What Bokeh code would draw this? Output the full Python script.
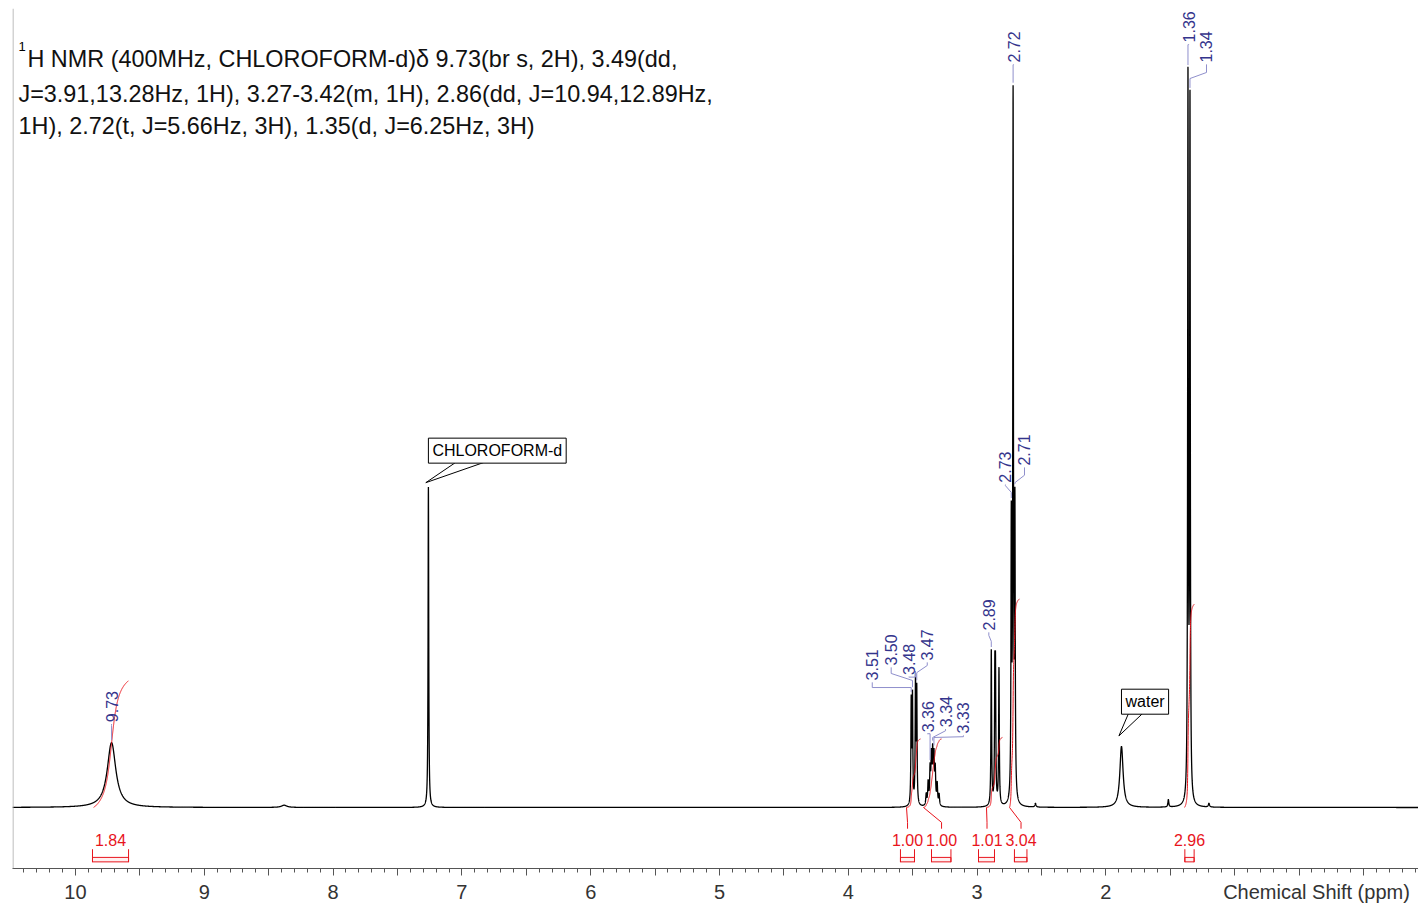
import numpy as np
from math import pi
from bokeh.plotting import figure
from bokeh.models import Range1d, Label, Span, FixedTicker, CustomJSTickFormatter, LinearAxis
from bokeh.core.properties import value
from bokeh.embed import file_html
from bokeh.resources import INLINE

FONT = "Liberation Sans"

# ---------------- data ----------------
# spectral lines: position (ppm), height (a.u., tallest line ~100), width at half height (ppm)
line_ppm = [9.72, 8.38, 7.26,
            3.5115, 3.5017, 3.4783, 3.4685,
            3.395, 3.380, 3.365, 3.355, 3.345, 3.335, 3.325, 3.310, 3.295,
            2.8898, 2.8622, 2.8573, 2.8302,
            2.7345, 2.7205, 2.7065,
            2.547, 1.879, 1.515,
            1.3628, 1.3472, 1.200]
line_height = [8.7, 0.3, 43.0,
               13.7, 14.3, 16.4, 15.1,
               1.5, 3.0, 4.5, 6.0, 6.5, 6.0, 4.5, 2.8, 1.5,
               20.9, 16.0, 16.0, 18.4,
               36.6, 93.6, 38.5,
               0.5, 8.2, 1.0,
               96.6, 93.4, 0.5]
line_fwhm = [0.080, 0.050, 0.006,
             0.006, 0.006, 0.006, 0.006,
             0.008, 0.008, 0.008, 0.008, 0.008, 0.008, 0.008, 0.008, 0.008,
             0.006, 0.006, 0.006, 0.006,
             0.006, 0.006, 0.006,
             0.010, 0.030, 0.008,
             0.006, 0.006, 0.010]

# peak labels: text, peak position (ppm)
peak_text = ["9.73", "3.51", "3.50", "3.48", "3.47", "3.36", "3.34", "3.33",
             "2.89", "2.73", "2.71", "2.72", "1.36", "1.34"]
peak_pos = [9.72, 3.5115, 3.5017, 3.4783, 3.4685, 3.365, 3.345, 3.335,
            2.8898, 2.7345, 2.7065, 2.7205, 1.3628, 1.3472]

# integrals
int_value = ["1.84", "1.00", "1.00", "1.01", "3.04", "2.96"]
int_from = [9.868, 3.595, 3.354, 2.989, 2.710, 1.387]
int_to = [9.588, 3.486, 3.203, 2.865, 2.613, 1.315]
curve_from = [9.860, 3.548, 3.416, 2.927, 2.748, 1.390]
curve_to = [9.589, 3.439, 3.276, 2.803, 2.671, 1.313]
curve_rise = [17.0, 9.2, 9.2, 9.4, 28.0, 27.3]

# solvent / impurity annotations
note_text = ["CHLOROFORM-d", "water"]
note_pos = [7.26, 1.879]

header_lines = ["H NMR (400MHz, CHLOROFORM-d)\u03b4 9.73(br s, 2H), 3.49(dd,",
                "J=3.91,13.28Hz, 1H), 3.27-3.42(m, 1H), 2.86(dd, J=10.94,12.89Hz,",
                "1H), 2.72(t, J=5.66Hz, 3H), 1.35(d, J=6.25Hz, 3H)"]

x_title = "Chemical Shift (ppm)"
x_tick_marks = [i * 0.5 for i in range(0, 21)]
x_minor = [round(-0.4 + i * 0.1, 1) for i in range(0, 109)]
x_tick_labels = [10, 9, 8, 7, 6, 5, 4, 3, 2]

# ---------------- layout (label placement) ----------------
title_at = 0.365
lab_x = [9.72, 3.814, 3.667, 3.530, 3.387, 3.385, 3.245, 3.106,
         2.909, 2.780, 2.632, 2.717, 1.357, 1.219]
lab_bottom = [11.45, 17.05, 19.06, 17.8, 19.73, 10.1, 10.78, 9.93,
              23.76, 43.6, 45.9, 100.0, 102.7, 100.0]
knee1 = [11.0, 16.1, 17.99, 17.5, 19.06, 9.9, 10.3, 9.5,
         23.1, 43.2, 44.6, 99.7, 102.4, 98.66]
knee2 = [11.0, 16.1, 17.05, 17.5, 18.1, 9.9, 9.4, 9.4,
         22.3, 42.3, 43.6, 99.7, 102.4, 97.85]
int_label_x = [9.728, 3.540, 3.276, 2.923, 2.659, 1.351]
int_leader = [False, True, True, True, True, False]

# ---------------- spectrum model ----------------
ppm = np.linspace(10.489, -0.427, 21833)
spec = np.zeros_like(ppm)
for x0, a, w in zip(line_ppm, line_height, line_fwhm):
    spec += a / (1.0 + ((ppm - x0) / (w / 2.0)) ** 2)


def top_at(x):
    return float(np.interp(x, ppm[::-1], spec[::-1]))


p = figure(width=1418, height=905, output_backend="svg", toolbar_location=None,
           x_range=Range1d(10.489, -0.427), y_range=Range1d(-8.19, 107.25),
           min_border_left=12, min_border_right=0, min_border_top=8, min_border_bottom=37)
p.outline_line_color = None
p.grid.visible = False
p.yaxis.visible = False
p.background_fill_color = "white"
p.border_fill_color = "white"

# axis 1: line and tick marks only
ax = p.xaxis[0]
ax.ticker = FixedTicker(ticks=x_tick_marks, minor_ticks=x_minor)
ax.formatter = CustomJSTickFormatter(code='return "";')
ax.axis_line_color = "#555555"
ax.major_tick_line_color = "#555555"
ax.minor_tick_line_color = "#555555"
ax.major_tick_in = 0
ax.major_tick_out = 7
ax.minor_tick_in = 0
ax.minor_tick_out = 4
ax.major_label_text_font_size = "1px"
ax.major_label_standoff = 0

# axis 2: numbers and the axis title, on one row
lab_axis = LinearAxis(
    ticker=FixedTicker(ticks=x_tick_labels + [title_at], minor_ticks=[]),
    formatter=CustomJSTickFormatter(args=dict(title=x_title, title_at=title_at), code="""
        if (Math.abs(tick - title_at) < 1e-6) { return title; }
        return tick.toFixed(0);
    """),
    axis_line_color=None, major_tick_line_color=None, minor_tick_line_color=None,
    major_tick_in=0, major_tick_out=0, minor_tick_in=0, minor_tick_out=0,
    major_label_text_font=FONT, major_label_text_font_size="20px",
    major_label_text_color="#333333", major_label_standoff=5)
p.add_layout(lab_axis, "below")

p.add_layout(Span(location=10.485, dimension="height", line_color="#a8a8a8", line_width=1))

# spectrum
p.line(ppm, spec, line_color="black", line_width=1.3)

# integrals
red = "#e8141c"
for i in range(len(int_value)):
    m = (ppm <= curve_from[i]) & (ppm >= curve_to[i])
    cx = ppm[m]
    cum = np.cumsum(spec[m])
    cy = (cum - cum[0]) / (cum[-1] - cum[0]) * curve_rise[i]
    p.line(cx, cy, line_color=red, line_width=1)
    if int_leader[i]:
        p.line([curve_from[i], int_label_x[i], int_label_x[i]], [0.0, -2.0, -2.85],
               line_color=red, line_width=1)

p.text(x=int_label_x, y=[-4.3] * len(int_value), text=int_value,
       text_font=value(FONT), text_font_size="16px", text_color=red,
       text_align="center", text_baseline="middle")
p.quad(left=int_from, right=int_to, top=[-6.7] * len(int_from), bottom=[-7.3] * len(int_from),
       fill_color="#fff0f0", line_color=red, line_width=1)
p.segment(x0=int_from + int_to, y0=[-5.6] * (2 * len(int_from)),
          x1=int_from + int_to, y1=[-7.35] * (2 * len(int_from)), line_color=red, line_width=1)

# peak labels + leaders
lead_xs, lead_ys = [], []
for i in range(len(peak_text)):
    t = top_at(peak_pos[i])
    lead_xs.append([lab_x[i], lab_x[i], peak_pos[i], peak_pos[i]])
    lead_ys.append([lab_bottom[i] - 0.25, knee1[i], knee2[i], t + 0.35])
p.multi_line(lead_xs, lead_ys, line_color="#8f8fcc", line_width=1)
p.text(x=lab_x, y=lab_bottom, text=peak_text, angle=pi / 2,
       text_font=value(FONT), text_font_size="16px", text_color="#34348c",
       text_align="left", text_baseline="middle")

# solvent / water callouts
dx_base = [(-0.21, -0.428), (-0.054, -0.163)]
box_bottom = [46.3, 12.6]
tip_dy = [0.6, 1.4]
for i in range(2):
    t = top_at(note_pos[i])
    p.patch([note_pos[i] + dx_base[i][0], note_pos[i] + dx_base[i][1], note_pos[i] + 0.02],
            [box_bottom[i], box_bottom[i], t + tip_dy[i]],
            fill_color="white", line_color="black", line_width=1)
    p.add_layout(Label(x=note_pos[i], y=box_bottom[i] + 1.6, text=note_text[i],
                       text_font=FONT, text_font_size="16px", text_color="black",
                       text_baseline="middle", text_align="left",
                       border_line_color="black", background_fill_color="white", padding=4))

# header text
p.add_layout(Label(x=10.4425, y=102.1, text="1", text_font=FONT, text_font_size="13px",
                   text_color="black", text_baseline="alphabetic"))
hy = [100.53, 95.77, 91.54]
hx = [10.3727, 10.4425, 10.4425]
for i, s in enumerate(header_lines):
    p.add_layout(Label(x=hx[i], y=hy[i], text=s, text_font=FONT, text_font_size="23.4px",
                       text_color="#111111", text_baseline="alphabetic"))

open("out.html", "w").write(file_html(p, INLINE))
